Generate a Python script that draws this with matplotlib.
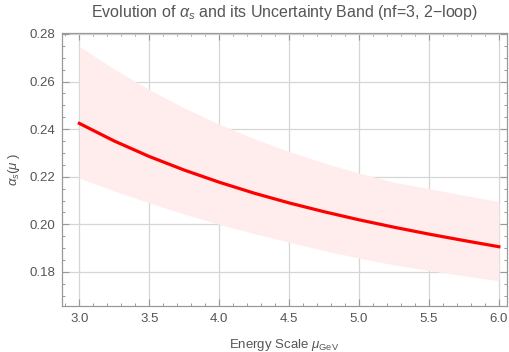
import numpy as np
import matplotlib
matplotlib.use("Agg")
import matplotlib.pyplot as plt
from matplotlib.ticker import MultipleLocator

# values
mu = [3.0, 3.25, 3.5, 3.75, 4.0, 4.25, 4.5, 4.75, 5.0, 5.25, 5.5, 5.75, 6.0]
alpha_s = [0.2424, 0.2350, 0.2285, 0.2228, 0.2177, 0.2131, 0.2090,
           0.2053, 0.2019, 0.1988, 0.1959, 0.1932, 0.1906]
alpha_up = [0.2748, 0.2652, 0.2566, 0.2489, 0.2421, 0.2360, 0.2306,
            0.2258, 0.2215, 0.2177, 0.2150, 0.2122, 0.2096]
alpha_lo = [0.2194, 0.2140, 0.2090, 0.2043, 0.2000, 0.1961, 0.1925,
            0.1890, 0.1858, 0.1830, 0.1806, 0.1784, 0.1763]

plt.rcParams['font.family'] = ['Liberation Sans', 'DejaVu Sans']
plt.rcParams['mathtext.fontset'] = 'custom'
plt.rcParams['mathtext.it'] = 'Liberation Sans:italic'
plt.rcParams['mathtext.rm'] = 'Liberation Sans'

txt = '#555555'
frame = '#999999'

fig = plt.figure(figsize=(5.09, 3.52), dpi=100)
ax = fig.add_axes([62/509, 1-306/352, (507-62)/509, (306-32.7)/352])

ax.fill_between(mu, alpha_lo, alpha_up, color='#ffeded', lw=0, zorder=1)
ax.plot(mu, alpha_s, color='#ff0000', lw=2.3, zorder=3)

ax.set_xlim(2.876, 6.058)
ax.set_ylim(0.1657, 0.2805)
ax.xaxis.set_major_locator(MultipleLocator(0.5))
ax.xaxis.set_minor_locator(MultipleLocator(0.1))
ax.yaxis.set_major_locator(MultipleLocator(0.02))
ax.yaxis.set_minor_locator(MultipleLocator(0.005))
ax.xaxis.set_major_formatter(matplotlib.ticker.FormatStrFormatter('%.1f'))
ax.yaxis.set_major_formatter(matplotlib.ticker.FormatStrFormatter('%.2f'))

ax.grid(True, which='major', color='#d6d6d6', lw=0.9, zorder=0)
ax.set_axisbelow(True)
for s in ax.spines.values():
    s.set_color(frame)
    s.set_linewidth(0.9)
ax.tick_params(which='both', direction='in', top=True, right=True,
               color=frame, labelcolor=txt, labelsize=9.5, pad=5)
ax.tick_params(which='major', length=5, width=0.8)
ax.tick_params(which='minor', length=2.5, width=0.7)

ax.set_title(r'Evolution of $\alpha_s$ and its Uncertainty Band (nf=3, 2$-$loop)',
             color=txt, fontsize=11.5, pad=11)
ax.set_xlabel(r'Energy Scale $\mu_{\rm GeV}$', color=txt, fontsize=9.5, labelpad=9)
ax.set_ylabel(r'$\alpha_s(\mu\ )$', color=txt, fontsize=9.5, labelpad=5)

fig.savefig('out.png', dpi=100)
